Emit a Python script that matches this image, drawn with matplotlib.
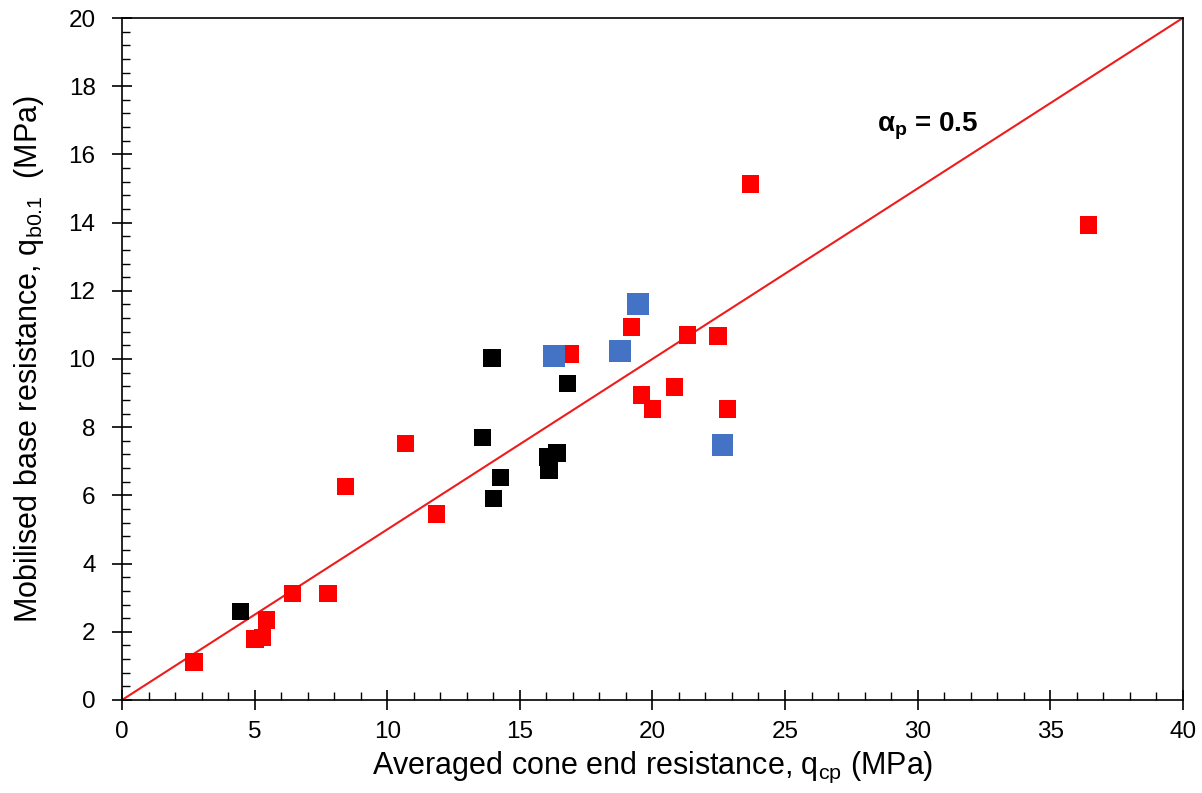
import matplotlib.pyplot as plt
from matplotlib.ticker import MultipleLocator

plt.rcParams['font.family'] = ['Liberation Sans', 'DejaVu Sans']
plt.rcParams['mathtext.fontset'] = 'custom'
plt.rcParams['mathtext.rm'] = 'Liberation Sans'
plt.rcParams['mathtext.it'] = 'Liberation Sans'
plt.rcParams['mathtext.bf'] = 'Liberation Sans:bold'

# red series
red_x = [2.71, 5.01, 5.3, 5.46, 6.44, 7.77, 8.44, 10.7, 11.87, 16.89,
         19.22, 21.33, 22.47, 20.84, 19.6, 20.0, 22.84, 23.7, 36.45]
red_y = [1.11, 1.79, 1.84, 2.35, 3.13, 3.13, 6.27, 7.53, 5.45, 10.15,
         10.94, 10.70, 10.67, 9.18, 8.94, 8.53, 8.53, 15.13, 13.93]

# black series
black_x = [4.48, 13.95, 13.6, 14.28, 14.02, 16.81, 16.4, 16.06, 16.1]
black_y = [2.59, 10.03, 7.7, 6.52, 5.9, 9.29, 7.24, 7.13, 6.74]

# blue series
blue_x = [16.28, 19.45, 18.77, 22.65]
blue_y = [10.09, 11.61, 10.23, 7.48]

alpha_p = 0.5
line_x = [0, 40]

fig = plt.figure(figsize=(12.02, 7.93), dpi=100)
ax = fig.add_axes([0.1015, 0.1173, 0.8825, 0.86])

ax.plot(line_x, [alpha_p * v for v in line_x], color='#ee1c1c', linewidth=1.5, zorder=2)
ax.scatter(red_x, red_y, marker='s', s=156, color='#ff0000', edgecolors='none', zorder=3)
ax.scatter(black_x, black_y, marker='s', s=156, color='#000000', edgecolors='none', zorder=3)
ax.scatter(blue_x, blue_y, marker='s', s=243, color='#4472c4', edgecolors='none', zorder=4)

ax.text(28.46, 16.66, r'$\mathbf{\alpha}_\mathbf{p}$ = 0.5', fontsize=20,
        fontweight='bold', va='baseline', ha='left')

ax.set_xlim(0, 40)
ax.set_ylim(0, 20)
ax.xaxis.set_major_locator(MultipleLocator(5))
ax.xaxis.set_minor_locator(MultipleLocator(1))
ax.yaxis.set_major_locator(MultipleLocator(2))
ax.yaxis.set_minor_locator(MultipleLocator(0.4))
ax.tick_params(which='major', direction='inout', length=14, width=1.2, labelsize=17.5)
ax.tick_params(axis='x', which='major', pad=8)
ax.tick_params(axis='y', which='major', pad=12)
ax.tick_params(which='minor', direction='in', length=6, width=1)
for sp in ax.spines.values():
    sp.set_linewidth(1.2)

ax.set_xlabel(r'Averaged cone end resistance, q$_{\rm cp}$ (MPa)', fontsize=22, labelpad=5)
ax.set_ylabel(r'Mobilised base resistance, q$_{\rm b0.1}$  (MPa)', fontsize=22, labelpad=16)

plt.savefig('out.png', dpi=100)
